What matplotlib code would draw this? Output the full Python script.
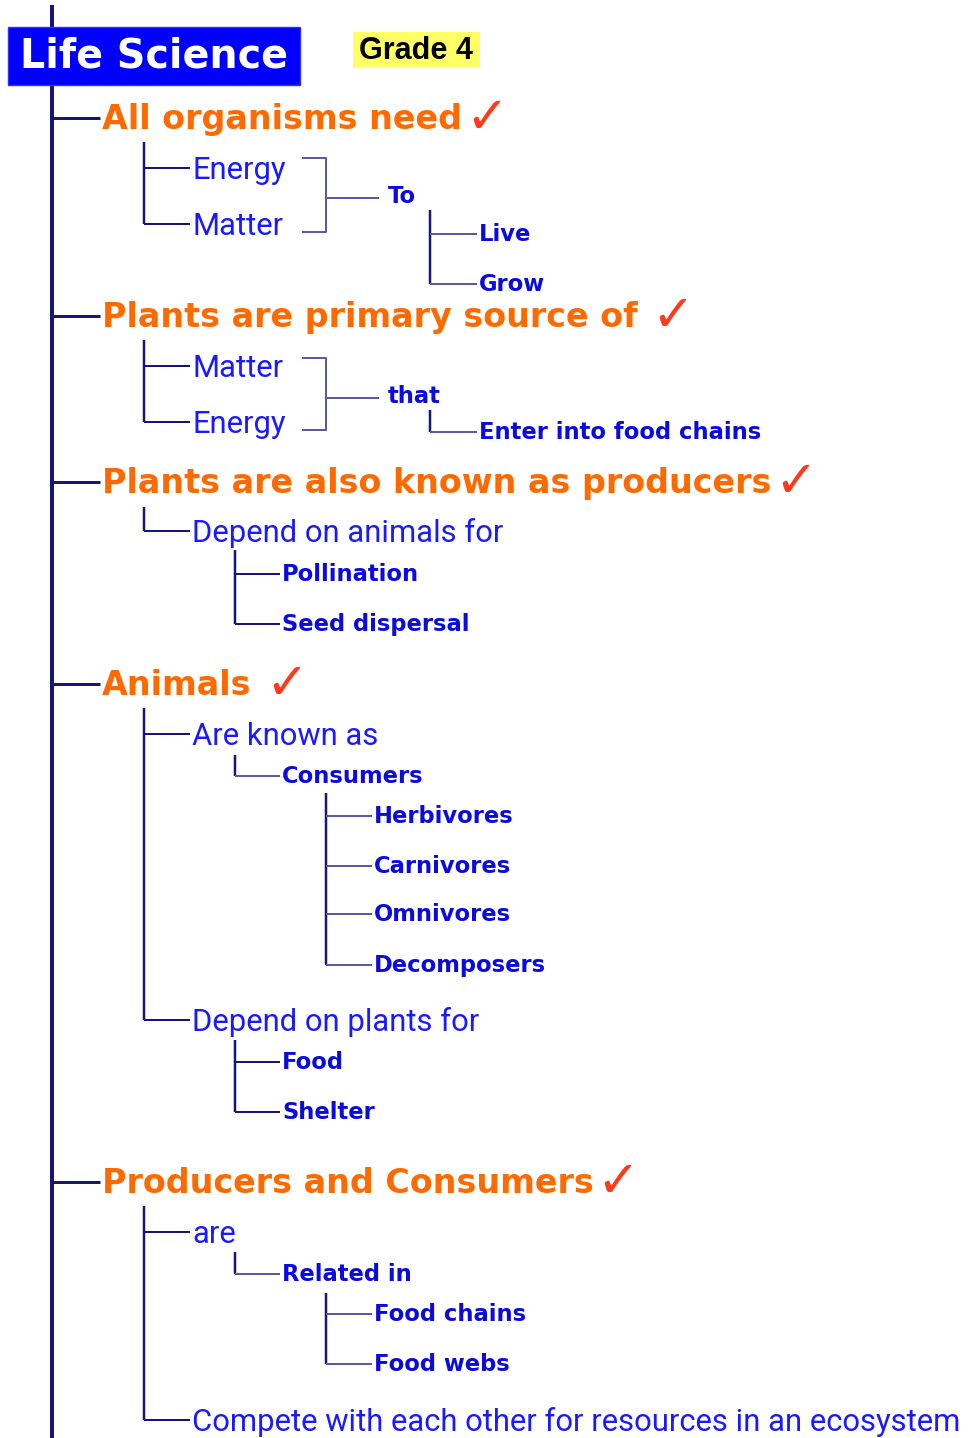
import matplotlib
matplotlib.use("Agg")
import matplotlib.pyplot as plt
from matplotlib.patches import Rectangle

# chart content
title = "Life Science"
grade = "Grade 4"
headings = ["All organisms need", "Plants are primary source of",
            "Plants are also known as producers", "Animals",
            "Producers and Consumers"]

need_items = ["Energy", "Matter"]
need_link = "To"
need_for = ["Live", "Grow"]

source_items = ["Matter", "Energy"]
source_link = "that"
source_for = ["Enter into food chains"]

producer_items = ["Depend on animals for"]
producer_for = ["Pollination", "Seed dispersal"]

animal_items = ["Are known as", "Depend on plants for"]
known_as = ["Consumers"]
consumer_types = ["Herbivores", "Carnivores", "Omnivores", "Decomposers"]
plants_for = ["Food", "Shelter"]

pc_items = ["are", "Compete with each other for resources in an ecosystem"]
pc_are = ["Related in"]
related_in = ["Food chains", "Food webs"]

# layout (pixel rows)
heading_y = [118, 316, 482, 684, 1182]
check_gap = [3, 14, 3, 14, 3]

NAVY = "#16167a"
LINK = "#5a5aa8"
ORANGE = "#ff6a00"
BLUE = "#1a1aff"
DEEP = "#0b0be0"


def pt(v):
    return v * 0.72


fig = plt.figure(figsize=(9.8, 14.38), dpi=100)
ax = fig.add_axes([0, 0, 1, 1])
ax.set_xlim(0, 980)
ax.set_ylim(1438, 0)
ax.axis("off")


def label(x, y, s, kind):
    if kind == 2:
        ax.text(x, y + 11, s, fontsize=22.3, family="Roboto", color=BLUE,
                va="baseline")
    else:
        ax.text(x, y + 7, s, fontsize=16.3, family="DejaVu Sans",
                weight="bold", color=DEEP, va="baseline")


def branch(x, top, ys, labels, kind, xend, hcol=NAVY):
    ax.plot([x, x], [top, ys[-1]], color=NAVY, lw=pt(2.5),
            solid_capstyle="butt")
    for y, s in zip(ys, labels):
        ax.plot([x, xend], [y, y], color=hcol, lw=pt(2),
                solid_capstyle="butt")
        label(xend + 2, y, s, kind)


def bracket(top, bottom, y, s):
    ax.plot([303, 326, 326, 303], [top, top, bottom, bottom], color=LINK,
            lw=pt(2))
    ax.plot([326, 378], [y, y], color=LINK, lw=pt(2))
    label(388, y - 2, s, 3)


# main stem
ax.plot([52, 52], [5, 1438], color=NAVY, lw=pt(4), solid_capstyle="butt",
        zorder=1)

# title boxes
ax.add_patch(Rectangle((8, 27), 292, 58, facecolor="#0000ff",
                       edgecolor="#3030ff", zorder=3))
ax.text(154, 57, title, fontsize=28.5, family="DejaVu Sans", weight="bold",
        color="white", ha="center", va="center", zorder=4)
ax.add_patch(Rectangle((353, 32), 127, 36, facecolor="#ffff66",
                       edgecolor="none", zorder=3))
ax.text(416, 51, grade, fontsize=22, family="Liberation Sans",
        weight="bold", color="black", ha="center", va="center", zorder=4)

# headings with check marks
for y, s, g in zip(heading_y, headings, check_gap):
    ax.plot([52, 100], [y, y], color=NAVY, lw=pt(3), solid_capstyle="butt")
    t = ax.text(102, y + 11, s, fontsize=24, family="DejaVu Sans",
                weight="bold", color=ORANGE, va="baseline")
    ax.annotate("\u2713", xy=(1, 0.5), xycoords=t, xytext=(pt(g), 0),
                textcoords="offset points", fontsize=37,
                family="DejaVu Sans", weight="bold", color="#ff3a1a",
                va="center", ha="left")

# All organisms need
branch(144, 142, [168, 224], need_items, 2, 190)
bracket(158, 232, 198, need_link)
branch(430, 210, [234, 284], need_for, 3, 477, LINK)

# Plants are primary source of
branch(144, 340, [366, 422], source_items, 2, 190)
bracket(358, 430, 398, source_link)
branch(430, 410, [432], source_for, 3, 477, LINK)

# Plants are also known as producers
branch(144, 507, [531], producer_items, 2, 190)
branch(235, 550, [574, 624], producer_for, 3, 280)

# Animals
branch(144, 708, [734, 1020], animal_items, 2, 190)
branch(235, 755, [776], known_as, 3, 280, LINK)
branch(326, 793, [816, 866, 914, 965], consumer_types, 3, 372, LINK)
branch(235, 1040, [1062, 1112], plants_for, 3, 280)

# Producers and Consumers
branch(144, 1206, [1232, 1420], pc_items, 2, 190)
branch(235, 1252, [1274], pc_are, 3, 280, LINK)
branch(326, 1293, [1314, 1364], related_in, 3, 372, LINK)

fig.savefig("out.png", dpi=100)
